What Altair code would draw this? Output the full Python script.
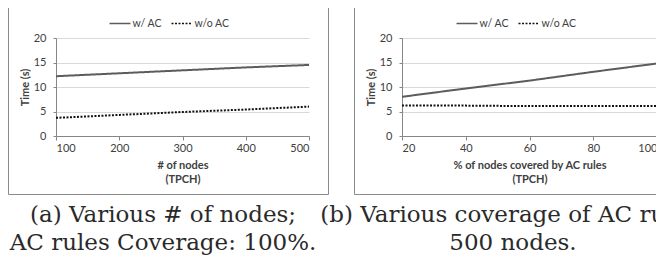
import altair as alt
import pandas as pd

# ---- data ----
series = ["w/ AC", "w/o AC"]

nodes = [100, 200, 300, 400, 500]
nodes_with_ac = [12.2, 12.8, 13.4, 14.0, 14.5]
nodes_without_ac = [3.7, 4.3, 4.9, 5.4, 6.0]

coverage = [20, 40, 60, 80, 100]
coverage_with_ac = [8.0, 9.7, 11.3, 13.1, 14.8]
coverage_without_ac = [6.2, 6.2, 6.1, 6.1, 6.1]

y_ticks = [0, 5, 10, 15, 20]
y_title = "Time (s)"
x_title_a = ["# of nodes", "(TPCH)"]
x_title_b = ["% of nodes covered by AC rules", "(TPCH)"]
caption_a = ["(a) Various # of nodes;", "AC rules Coverage: 100%."]
caption_b = ["(b) Various coverage of AC rules;", "500 nodes."]

UI_FONT = "Lato"
CAP_FONT = "DejaVu Serif"
PW_A, PW_B, PH = 253, 255, 98


def panel(xs, s_with, s_without, x_title, caption, pw, cap_x):
    df = pd.DataFrame({
        "x": xs + xs,
        "y": s_with + s_without,
        "series": [series[0]] * len(xs) + [series[1]] * len(xs),
    })
    legend = alt.Legend(
        title=None, orient="none", direction="horizontal",
        legendX=pw / 2 - 74, legendY=-26,
        symbolType="stroke", symbolSize=441, symbolStrokeWidth=1.6,
        labelFont=UI_FONT, labelFontSize=10.5, labelColor="#404040",
        labelOffset=1, columnPadding=5,
    )
    lines = alt.Chart(df).mark_line(strokeWidth=2).encode(
        x=alt.X("x:Q",
                scale=alt.Scale(domain=[xs[0], xs[-1]], nice=False, zero=False),
                axis=alt.Axis(values=xs, title=x_title, grid=False,
                              tickSize=4, labelPadding=2, titlePadding=6,
                              titleLineHeight=14)),
        y=alt.Y("y:Q",
                scale=alt.Scale(domain=[0, 20], nice=False),
                axis=alt.Axis(values=y_ticks, title=y_title, grid=True,
                              tickSize=3, labelPadding=7, titlePadding=3)),
        color=alt.Color("series:N",
                        scale=alt.Scale(domain=series, range=["#5c5c5c", "#111111"]),
                        legend=legend),
        strokeDash=alt.StrokeDash("series:N",
                                  scale=alt.Scale(domain=series, range=[[1, 0], [2, 1.5]]),
                                  legend=legend),
    )
    frame = alt.Chart(pd.DataFrame({"f": [0]})).mark_rect(
        fill=None, stroke="#8a8a8a", strokeWidth=1
    ).encode(
        x=alt.value(-47.5), x2=alt.value(pw + 19.5),
        y=alt.value(-34.5), y2=alt.value(156.5),
    )
    cap = alt.Chart(pd.DataFrame({"c": [0]})).mark_text(
        text=caption, font=CAP_FONT, fontSize=23, lineHeight=28,
        align="center", baseline="middle", color="#2a2a2a",
    ).encode(x=alt.value(cap_x), y=alt.value(177))
    return alt.layer(frame, lines, cap).properties(width=pw, height=PH)


left = panel(nodes, nodes_with_ac, nodes_without_ac, x_title_a, caption_a, PW_A, 107)
right = panel(coverage, coverage_with_ac, coverage_without_ac, x_title_b, caption_b, PW_B, 111)

chart = alt.hconcat(left, right, spacing=93, bounds="flush").resolve_scale(
    x="independent", color="independent", strokeDash="independent"
).resolve_legend(color="independent", strokeDash="independent").properties(
    padding={"left": 0, "top": -5, "right": -50, "bottom": 0}
).configure_view(stroke=None).configure_axis(
    labelFont=UI_FONT, labelFontSize=11, labelColor="#404040",
    titleFont=UI_FONT, titleFontSize=11, titleFontWeight="bold", titleColor="#404040",
    domainColor="#868686", tickColor="#868686", gridColor="#d9d9d9",
)

chart.save("out.html", embed_options={"renderer": "svg", "actions": False})
